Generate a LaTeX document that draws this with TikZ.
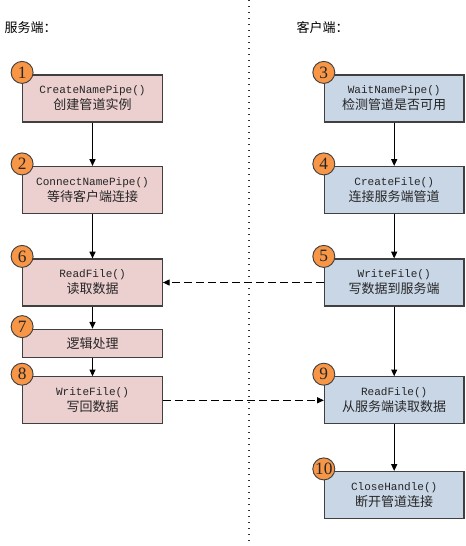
\documentclass[tikz,border=0pt]{standalone}
\usepackage{fontspec}
\setmainfont{Noto Sans CJK SC}
\newfontfamily\codefont[Scale=0.85]{Liberation Mono}
\newfontfamily\numfont{Liberation Serif}
\usetikzlibrary{arrows.meta}
\definecolor{serverred}{RGB}{236,207,207}
\definecolor{clientblue}{RGB}{201,214,230}
\definecolor{steporange}{RGB}{247,150,70}

\begin{document}
\begin{tikzpicture}[x=0.75pt, y=-0.75pt,
    box/.style={draw=black!75, line width=0.9pt, minimum width=104.7pt, minimum height=35.25pt,
        align=center, inner sep=0pt, text=black!85, font=\fontsize{9.75}{12}\selectfont},
    serverbox/.style={box, fill=serverred},
    clientbox/.style={box, fill=clientblue},
    stepnum/.style={circle, draw=black!75, line width=0.7pt, fill=steporange, minimum size=16.5pt,
        inner sep=0pt, text=black!85, font=\numfont\fontsize{13}{13}\selectfont},
    flow/.style={-{Triangle[length=5pt,width=4.5pt]}, line width=0.75pt, black},
    msg/.style={flow, dash pattern=on 6pt off 3pt}]
        \useasboundingbox (0,0) rectangle (465,546);

        \draw[black!80, line width=0.9pt, dash pattern=on 1.1pt off 3.4pt] (249,0) -- (249,546);

        \node[anchor=west, font=\fontsize{9.75}{12}\selectfont] (SL) at (0,28) {服务端：};
        \node[anchor=west, font=\fontsize{9.75}{12}\selectfont] (CL) at (292,28) {客户端：};

        \node[serverbox] (S1) at (92.5,98.5) {{\codefont CreateNamePipe()}\\创建管道实例};
        \node[serverbox] (S2) at (92.5,190) {{\codefont ConnectNamePipe()}\\等待客户端连接};
        \node[serverbox] (S6) at (92.5,282.5) {{\codefont ReadFile()}\\读取数据};
        \node[serverbox, minimum height=21.4pt] (S7) at (92.5,343.5) {逻辑处理};
        \node[serverbox] (S8) at (92.5,400.3) {{\codefont WriteFile()}\\写回数据};

        \node[clientbox] (C3) at (394.2,98.5) {{\codefont WaitNamePipe()}\\检测管道是否可用};
        \node[clientbox] (C4) at (394.2,190) {{\codefont CreateFile()}\\连接服务端管道};
        \node[clientbox] (C5) at (394.2,282.5) {{\codefont WriteFile()}\\写数据到服务端};
        \node[clientbox] (C9) at (394.2,400.3) {{\codefont ReadFile()}\\从服务端读取数据};
        \node[clientbox] (C10) at (394.2,495) {{\codefont CloseHandle()}\\断开管道连接};

        \foreach \n/\b in {1/S1, 2/S2, 6/S6, 7/S7, 8/S8, 3/C3, 4/C4, 5/C5, 9/C9, 10/C10}
            \node[stepnum] (N\n) at ([yshift=1.5pt]\b.north west) {\n};

        \draw[flow] (S1) -- (S2);
        \draw[flow] (S2) -- (S6);
        \draw[flow] (S6) -- (S7);
        \draw[flow] (S7) -- (S8);
        \draw[flow] (C3) -- (C4);
        \draw[flow] (C4) -- (C5);
        \draw[flow] (C5) -- (C9);
        \draw[flow] (C9) -- (C10);

        \draw[msg] (C5.west) -- (S6.east);
        \draw[msg] (S8.east) -- (C9.west);
    \end{tikzpicture}
\end{document}
